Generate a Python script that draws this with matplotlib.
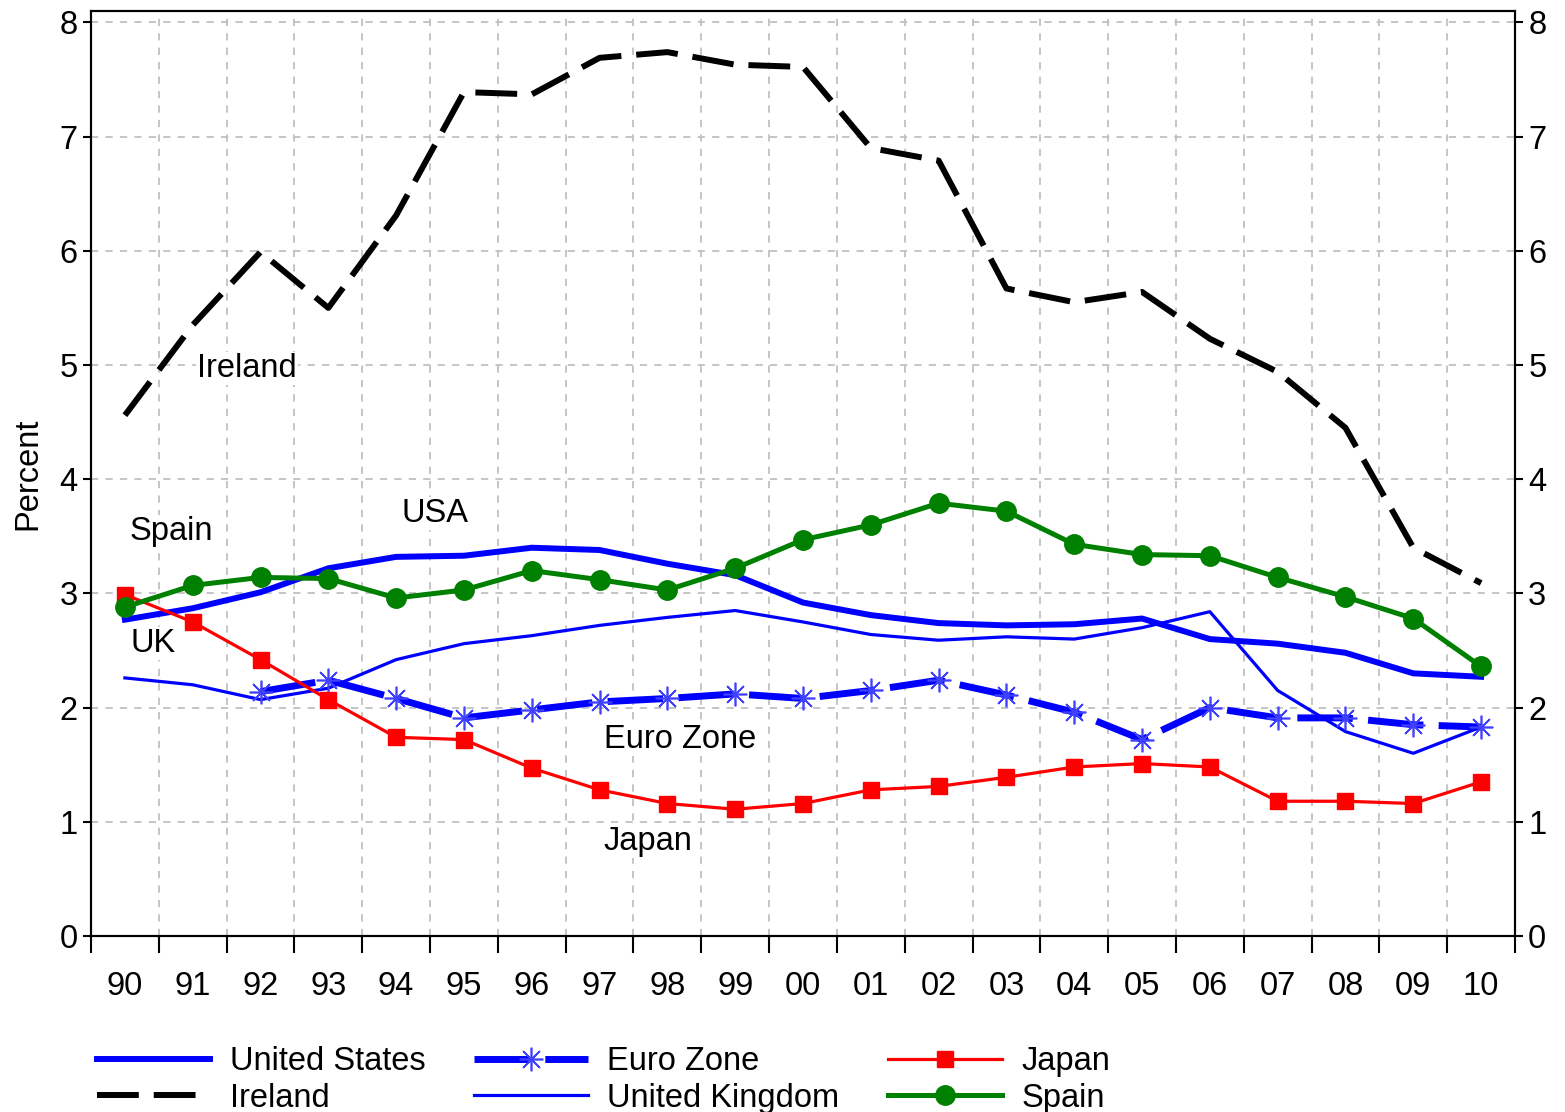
import matplotlib
matplotlib.use("Agg")
import matplotlib.pyplot as plt
import numpy as np

plt.rcParams["font.family"] = ["Liberation Sans", "DejaVu Sans"]

years = ["90", "91", "92", "93", "94", "95", "96", "97", "98", "99", "00",
         "01", "02", "03", "04", "05", "06", "07", "08", "09", "10"]

usa = [2.77, 2.87, 3.01, 3.22, 3.32, 3.33, 3.40, 3.38, 3.26, 3.16, 2.92,
       2.81, 2.74, 2.72, 2.73, 2.78, 2.60, 2.56, 2.48, 2.30, 2.27]
ireland = [4.56, 5.35, 5.99, 5.50, 6.31, 7.39, 7.37, 7.69, 7.74, 7.63, 7.61,
           6.90, 6.79, 5.67, 5.55, 5.64, 5.23, 4.94, 4.45, 3.40, 3.09]
euro = [None, None, 2.14, 2.24, 2.08, 1.91, 1.98, 2.05, 2.08, 2.12, 2.08,
        2.15, 2.24, 2.11, 1.96, 1.72, 2.00, 1.91, 1.91, 1.85, 1.83]
uk = [2.26, 2.20, 2.07, 2.17, 2.42, 2.56, 2.63, 2.72, 2.79, 2.85, 2.75,
      2.64, 2.59, 2.62, 2.60, 2.70, 2.84, 2.15, 1.79, 1.60, 1.83]
japan = [2.99, 2.75, 2.42, 2.07, 1.74, 1.72, 1.47, 1.28, 1.16, 1.11, 1.16,
         1.28, 1.31, 1.39, 1.48, 1.51, 1.48, 1.18, 1.18, 1.16, 1.35]
spain = [2.88, 3.07, 3.14, 3.13, 2.96, 3.03, 3.20, 3.12, 3.03, 3.22, 3.47,
         3.60, 3.79, 3.72, 3.43, 3.34, 3.33, 3.14, 2.97, 2.78, 2.36]

# in-plot labels: (text, x, y)
labels = [("Ireland", 1.80, 4.97), ("USA", 4.57, 3.70), ("Spain", 0.68, 3.54),
          ("UK", 0.41, 2.56), ("Euro Zone", 8.19, 1.72), ("Japan", 7.71, 0.83)]

FS = 23.5

x = np.arange(len(years))
euro_arr = np.array([np.nan if v is None else v for v in euro])

fig = plt.figure(figsize=(15.65, 11.12), dpi=100)
ax = fig.add_axes([91 / 1565, 1 - 936 / 1112, 1424 / 1565, 925 / 1112])

ax.plot(x, usa, color="#0000ff", lw=4.3, label="United States", zorder=3)
ax.plot(x, ireland, color="black", lw=4.3, dashes=(7, 2.5), label="Ireland", zorder=3)
ax.plot(x, euro_arr, color="#0000ff", lw=5, dashes=(8, 2.2), marker=(8, 2, 0),
        ms=17, mec="#4040ff", mew=1.2, label="Euro Zone", zorder=4)
ax.plot(x, uk, color="#0000ff", lw=2.3, label="United Kingdom", zorder=3)
ax.plot(x, japan, color="#ff0000", lw=2.3, marker="s", ms=12, mfc="#ff0000",
        mec="#ff0000", label="Japan", zorder=4)
ax.plot(x, spain, color="#008000", lw=3.6, marker="o", ms=14, mfc="#008000",
        mec="#008000", label="Spain", zorder=4)

for txt, tx, ty in labels:
    ax.text(tx, ty, txt, fontsize=FS, ha="center", va="center", zorder=5,
            bbox=dict(facecolor="white", edgecolor="none", pad=1))

ax.set_xlim(-0.5, 20.5)
ax.set_ylim(0, 8.1)
ax.set_xticks(np.arange(-0.5, 21, 1))
ax.set_xticklabels([])
ax.set_xticks(x, minor=True)
ax.set_xticklabels(years, minor=True, fontsize=FS)
ax.tick_params(axis="x", which="minor", length=0, pad=25)
ax.tick_params(axis="x", which="major", length=12, width=1.5, direction="out")
ax.set_yticks(range(9))
ax.tick_params(axis="y", labelsize=FS, length=6, width=1.5, direction="out")
ax.set_ylabel("Percent", fontsize=FS, labelpad=12)

ax.grid(True, which="major", color="#c0c0c0", ls=(0, (4, 4)), lw=1.3)
ax.set_axisbelow(True)
for sp in ax.spines.values():
    sp.set_linewidth(1.5)

ax2 = ax.twinx()
ax2.set_ylim(ax.get_ylim())
ax2.set_yticks(range(9))
ax2.tick_params(axis="y", labelsize=FS, length=6, width=1.5, direction="out")
for sp in ax2.spines.values():
    sp.set_linewidth(1.5)

handles, names = ax.get_legend_handles_labels()
fig.legend(handles, names, loc="upper left", bbox_to_anchor=(97 / 1565, 1 - 1046 / 1112),
           ncol=3, frameon=False, fontsize=FS, handlelength=3.47, handletextpad=0.6,
           columnspacing=1.5, labelspacing=0.18, borderpad=0, borderaxespad=0)

fig.savefig("out.png", dpi=100)
